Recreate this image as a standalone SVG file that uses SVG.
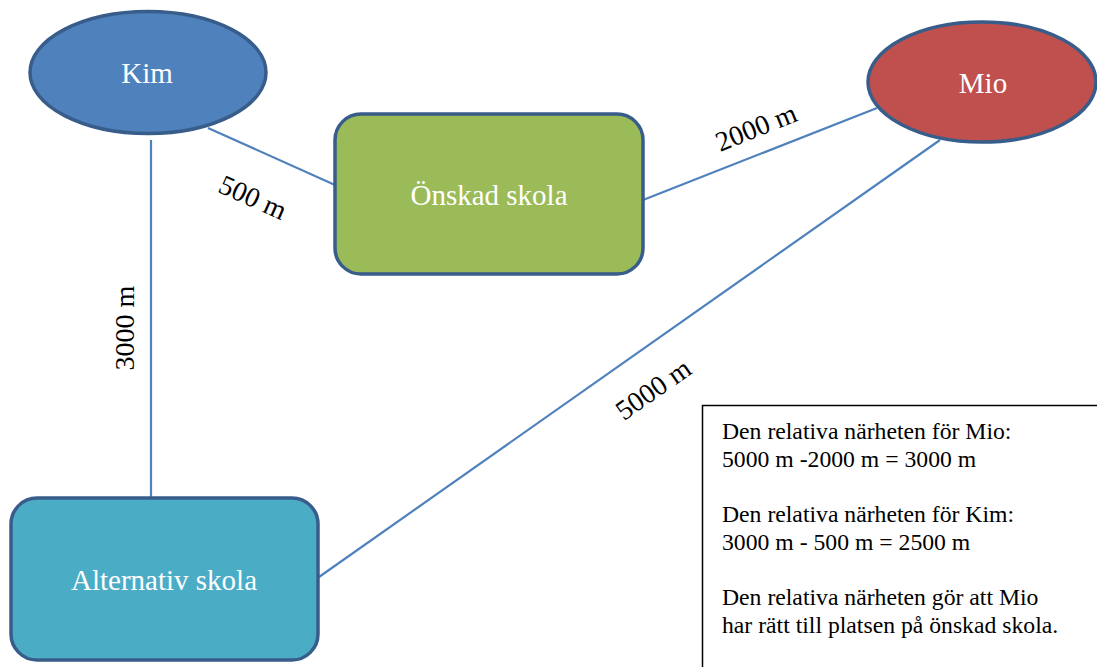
<svg xmlns="http://www.w3.org/2000/svg" width="1097" height="667" viewBox="0 0 1097 667">
<style>
.node{stroke:#385D8A;stroke-width:3.5}
.lbl{font-family:'Liberation Serif','Tinos','Times New Roman','Noto Serif','DejaVu Serif',serif;font-size:29px;fill:#FFFFFF;text-anchor:middle}
.edge{stroke:#4F81BD;stroke-width:2.2;fill:none}
.elbl{font-family:'Liberation Serif','Tinos','Times New Roman','Noto Serif','DejaVu Serif',serif;font-size:28px;fill:#000000;text-anchor:middle}
.note{font-family:'Liberation Serif','Tinos','Times New Roman','Noto Serif','DejaVu Serif',serif;font-size:23.7px;fill:#000000}
</style>
<rect width="1097" height="667" fill="#FFFFFF"/>
<g id="connectors">
<line class="edge" x1="208" y1="128" x2="335" y2="185"/>
<line class="edge" x1="151" y1="140" x2="151" y2="497"/>
<line class="edge" x1="643" y1="200" x2="877" y2="108"/>
<line class="edge" x1="940" y1="140" x2="319" y2="577"/>
<text class="elbl" transform="translate(253,197) rotate(24)" dy="0.35em">500 m</text>
<text class="elbl" transform="translate(756,127) rotate(-22)" dy="0.35em">2000 m</text>
<text class="elbl" transform="translate(124,328) rotate(-90)" dy="0.35em">3000 m</text>
<text class="elbl" transform="translate(653,389) rotate(-35)" dy="0.35em">5000 m</text>
</g>
<g id="kim">
<ellipse class="node" cx="148" cy="72.5" rx="118" ry="61" fill="#4F81BD"/>
<text class="lbl" x="147" y="83">Kim</text>
</g>
<g id="mio">
<ellipse class="node" cx="982" cy="82" rx="114" ry="60" fill="#C0504D"/>
<text class="lbl" x="983" y="93">Mio</text>
</g>
<g id="onskad">
<rect class="node" x="335" y="114" width="308" height="160" rx="26" fill="#9BBB59"/>
<text class="lbl" x="489" y="205">Önskad skola</text>
</g>
<g id="alternativ">
<rect class="node" x="11" y="498" width="307" height="162" rx="26" fill="#4BACC6"/>
<text class="lbl" x="164" y="590">Alternativ skola</text>
</g>
<g id="note">
<rect x="702.5" y="405.5" width="400" height="270" fill="#FFFFFF" stroke="#000000" stroke-width="1.5"/>
<text class="note" x="722" y="439">Den relativa närheten för Mio:</text>
<text class="note" x="722" y="467">5000 m -2000 m = 3000 m</text>
<text class="note" x="722" y="522">Den relativa närheten för Kim:</text>
<text class="note" x="722" y="550">3000 m - 500 m = 2500 m</text>
<text class="note" x="722" y="605">Den relativa närheten gör att Mio</text>
<text class="note" x="722" y="633">har rätt till platsen på önskad skola.</text>
</g>
</svg>
